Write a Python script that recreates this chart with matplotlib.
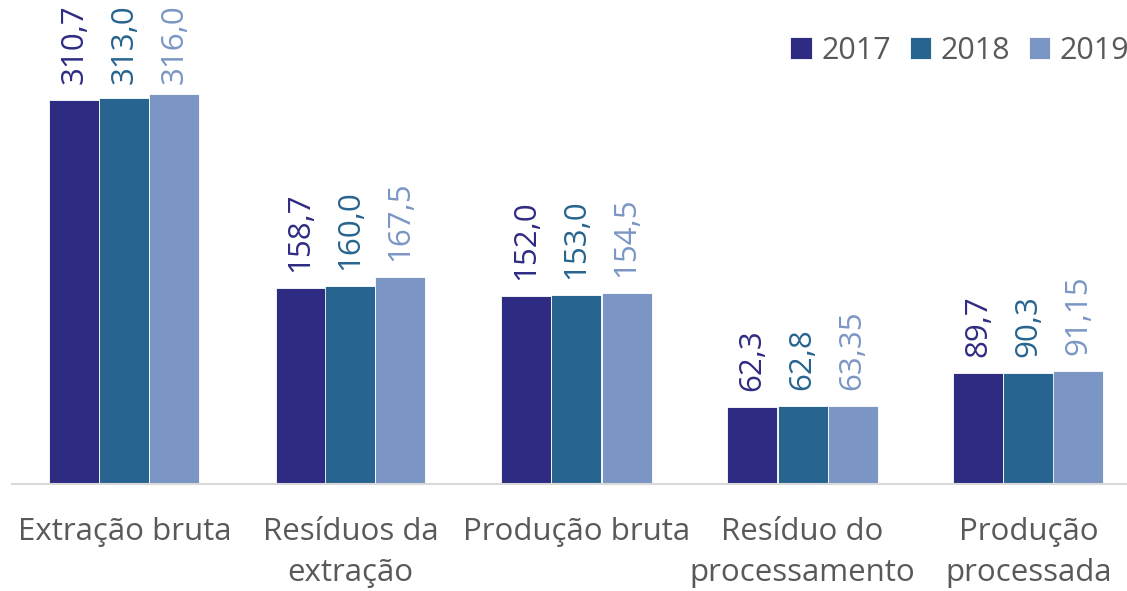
import numpy as np
import matplotlib.pyplot as plt

categorias = ["Extração bruta", "Resíduos da\nextração", "Produção bruta",
              "Resíduo do\nprocessamento", "Produção\nprocessada"]
anos = ["2017", "2018", "2019"]
v2017 = [310.7, 158.7, 152.0, 62.3, 89.7]
v2018 = [313.0, 160.0, 153.0, 62.8, 90.3]
v2019 = [316.0, 167.5, 154.5, 63.35, 91.15]
rotulos = [
    ["310,7", "158,7", "152,0", "62,3", "89,7"],
    ["313,0", "160,0", "153,0", "62,8", "90,3"],
    ["316,0", "167,5", "154,5", "63,35", "91,15"],
]
cores = ["#2e2b83", "#27648f", "#7b96c4"]

plt.rcParams['font.family'] = ['Open Sans', 'DejaVu Sans']

fig = plt.figure(figsize=(11.27, 5.91), dpi=100)
# axes runs a little past the right edge, like the cropped original
ax = fig.add_axes([11.5 / 1127, 107 / 591, 1130 / 1127, 484 / 591])

x = np.arange(len(categorias))
w = 50 / 226
textos = []
for i, vals in enumerate([v2017, v2018, v2019]):
    barras = ax.bar(x + (i - 1) * w, vals, w, color=cores[i], label=anos[i],
                    edgecolor='white', linewidth=0.6)
    for b, txt in zip(barras, rotulos[i]):
        t = ax.annotate(txt, (b.get_x() + b.get_width() / 2, b.get_height()),
                        xytext=(0, 11.5), textcoords='offset points', rotation=90,
                        ha='center', va='bottom', fontsize=22.5, color=cores[i])
        textos.append(t)

ax.set_xlim(-0.5, 4.5)
ax.set_ylim(0, 392)
ax.set_xticks(x)
ax.set_xticklabels(categorias, fontsize=22.5, color='#595959', linespacing=1.45)
ax.tick_params(axis='x', length=0, pad=24)
ax.set_yticks([])
for s in ['top', 'right', 'left']:
    ax.spines[s].set_visible(False)
ax.spines['bottom'].set_color('#d9d9d9')
ax.spines['bottom'].set_linewidth(1.5)

fig.legend(loc='upper left', bbox_to_anchor=(763 / 1127, 1 - 8 / 591), ncol=3,
           frameon=False, fontsize=22, labelcolor='#595959', handlelength=0.7,
           handleheight=0.7, handletextpad=0.3, columnspacing=0.62)

# keep labels inside the chart, pushing the tall ones down like the original
fig.canvas.draw()
topo = fig.bbox.height - 4
for t in textos:
    bb = t.get_window_extent()
    if bb.y1 > topo:
        dx, dy = t.xyann
        t.xyann = (dx, dy - (bb.y1 - topo) * 72 / fig.dpi)

fig.savefig('out.png', dpi=100)
